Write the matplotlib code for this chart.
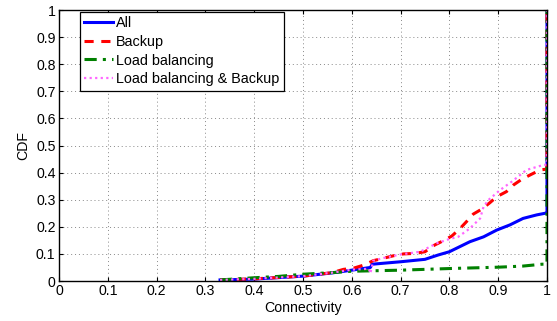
import numpy as np
import matplotlib
matplotlib.use("Agg")
import matplotlib.pyplot as plt

plt.rcParams['font.family'] = ['Liberation Sans', 'DejaVu Sans']

# CDF of connectivity per scheme (each curve closes with a jump to 1 at x=1)
all_x = [0.33, 0.4, 0.5, 0.56, 0.6, 0.638, 0.642, 0.7, 0.75, 0.777, 0.8, 0.842,
         0.87, 0.897, 0.924, 0.951, 0.979, 0.996, 1.0, 1.0]
all_y = [0.004, 0.007, 0.018, 0.03, 0.04, 0.05, 0.062, 0.071, 0.08, 0.096, 0.108, 0.145,
         0.163, 0.188, 0.207, 0.231, 0.244, 0.25, 0.25, 1.0]

backup_x = [0.33, 0.4, 0.5, 0.56, 0.583, 0.603, 0.625, 0.644, 0.665, 0.685, 0.706, 0.73,
            0.75, 0.77, 0.788, 0.805, 0.822, 0.835, 0.849, 0.866, 0.883, 0.897, 0.917,
            0.931, 0.948, 0.965, 0.986, 1.0, 1.0]
backup_y = [0.004, 0.008, 0.018, 0.031, 0.043, 0.047, 0.059, 0.075, 0.084, 0.093, 0.1, 0.102,
            0.108, 0.133, 0.149, 0.166, 0.194, 0.219, 0.247, 0.265, 0.289, 0.311, 0.33,
            0.354, 0.375, 0.391, 0.41, 0.413, 1.0]

lb_x = [0.33, 0.4, 0.45, 0.5, 0.56, 0.6, 0.7, 0.8, 0.9, 0.95, 0.99, 1.0, 1.0]
lb_y = [0.004, 0.012, 0.017, 0.025, 0.031, 0.036, 0.04, 0.046, 0.051, 0.055, 0.062, 0.062, 1.0]

lbb_x = [0.33, 0.4, 0.5, 0.56, 0.6, 0.635, 0.638, 0.644, 0.665, 0.7, 0.74, 0.774, 0.8,
         0.818, 0.842, 0.863, 0.87, 0.88, 0.904, 0.928, 0.958, 0.992, 1.0, 1.0]
lbb_y = [0.004, 0.008, 0.018, 0.031, 0.042, 0.045, 0.028, 0.075, 0.085, 0.098, 0.108, 0.139, 0.155,
         0.163, 0.194, 0.231, 0.274, 0.299, 0.336, 0.367, 0.41, 0.428, 0.43, 1.0]

ticks = np.round(np.arange(0, 1.01, 0.1), 1)
tick_labels = ['0', '0.1', '0.2', '0.3', '0.4', '0.5', '0.6', '0.7', '0.8', '0.9', '1']

fig = plt.figure(figsize=(5.57, 3.21), dpi=100)
ax = fig.add_axes([0.106, 0.1246, 0.876, 0.844])

ax.plot(all_x, all_y, color='#0000ff', lw=2.2, label='All')
ax.plot(backup_x, backup_y, color='#ff0000', lw=2.2, ls=(0, (3, 2.5)), label='Backup')
ax.plot(lb_x, lb_y, color='#008000', lw=2.2, ls=(0, (4, 2, 1, 2)), label='Load balancing')
ax.plot(lbb_x, lbb_y, color='#ff66ff', lw=1.6, ls=(0, (1, 1.5)), label='Load balancing & Backup')

ax.set_xlim(0, 1)
ax.set_ylim(0, 1)
ax.set_xticks(ticks)
ax.set_xticklabels(tick_labels)
ax.set_yticks(ticks)
ax.set_yticklabels(tick_labels)
ax.tick_params(direction='in', top=True, right=True, labelsize=10.2, length=3, width=0.8, pad=2.5)
ax.grid(True, ls=(0, (1, 3)), color='#888888', lw=0.7)
ax.set_axisbelow(True)
for s in ax.spines.values():
    s.set_linewidth(1.0)

ax.set_xlabel('Connectivity', fontsize=10.2, labelpad=2)
ax.set_ylabel('CDF', fontsize=10.2, labelpad=4)

leg = ax.legend(loc='upper left', bbox_to_anchor=(0.043, 0.993), borderaxespad=0,
                fontsize=10.4, handlelength=2.0, handletextpad=0.2, labelspacing=0.32,
                borderpad=0.3, fancybox=False, framealpha=1, edgecolor='black')
leg.get_frame().set_linewidth(0.9)

fig.savefig('out.png', dpi=100)
